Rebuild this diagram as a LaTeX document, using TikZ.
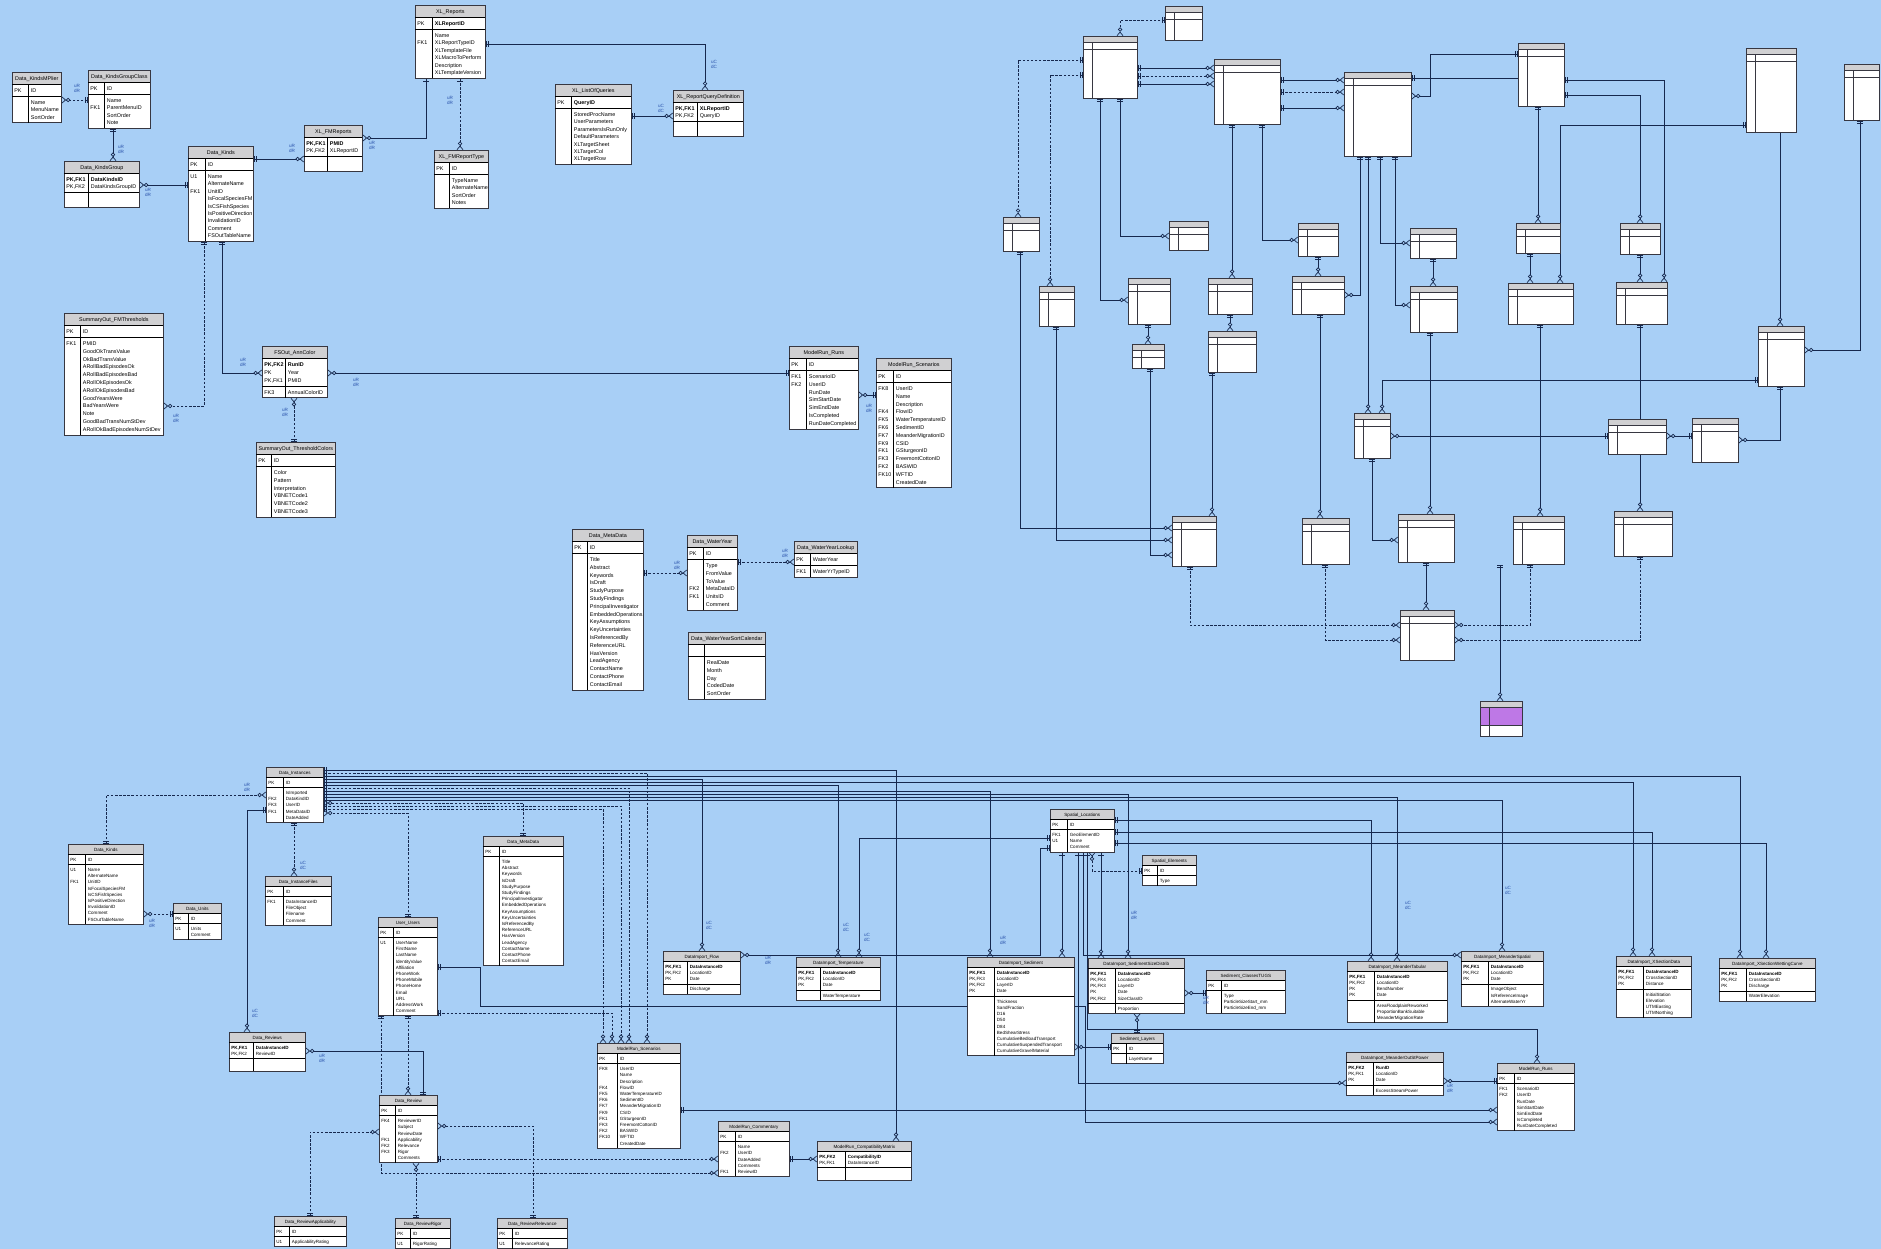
\documentclass[tikz,border=0pt]{standalone}
\usepackage{fontspec}
\setmainfont{Liberation Sans}
\usepackage{array}
\usetikzlibrary{arrows.meta}
\pgfdeclarelayer{bgl}\pgfdeclarelayer{back}
\pgfsetlayers{bgl,back,main}
\definecolor{bg}{RGB}{168,207,246}
\definecolor{lc}{RGB}{22,40,78}
\definecolor{hdr}{RGB}{208,208,210}
\definecolor{bd}{RGB}{55,55,65}
\definecolor{lb}{RGB}{40,80,170}
\definecolor{pur}{RGB}{190,120,230}
\setlength\arrayrulewidth{0.6pt}
\newcommand\entscale[2]{\pgfmathsetmacro\enfs{5.4*#1}\pgfmathsetmacro\enls{#2}%
 \pgfmathsetmacro\enth{8*#1}\pgfmathsetmacro\entd{3.5*#1}\pgfmathsetmacro\enhh{11.5*#1}\pgfmathsetmacro\enee{12*#1}}
\newcommand\Tp{\rule{0pt}{\enth pt}}
\newcommand\Bt{\rule[-\entd pt]{0pt}{\entd pt}}
\newcommand\Em{\rule{0pt}{\enee pt}&\\}
\tikzset{
 ent/.style={draw=bd, line width=0.7pt, fill=white, inner sep=0pt, anchor=north west,
   font=\fontsize{\enfs}{\enls}\selectfont,
   path picture={\fill[hdr] (path picture bounding box.north west) rectangle ([yshift=-\enhh pt]path picture bounding box.north east);}},
 mini/.style={draw=bd,line width=0.6pt,fill=white,anchor=north west,inner sep=0pt,
   path picture={\fill[hdr] (path picture bounding box.north west) rectangle ([yshift=-6pt]path picture bounding box.north east);
   \draw[bd,line width=0.4pt] ([yshift=-6pt]path picture bounding box.north west) -- ([yshift=-6pt]path picture bounding box.north east)
   ([yshift=-13pt]path picture bounding box.north west) -- ([yshift=-13pt]path picture bounding box.north east)
   ([xshift=9pt,yshift=-6pt]path picture bounding box.north west) -- ([xshift=9pt]path picture bounding box.south west);}},
 rel/.style={draw=lc, line width=0.8pt},
 opt/.style={rel, dash pattern=on 2.5pt off 1.6pt},
 one/.tip={Bar[width=6pt,line width=0.8pt,sep=1.6pt]Bar[width=6pt,line width=0.8pt]},
 zm/.tip={Circle[open,length=4.2pt,width=4.2pt,line width=0.7pt,fill=bg,sep=0pt]Straight Barb[reversed,length=3.5pt,width=6pt,line width=0.7pt]},
 om/.style={arrows={one}-{zm}},
 lab/.style={font=\fontsize{4.6}{4.9}\selectfont, text=lb, align=center, inner sep=0pt},
}
\newcommand\ent[6]{\node[ent] (#1) at (#2) {\begin{tabular}{@{\hspace{2pt}}>{\raggedright\arraybackslash}p{\dimexpr#4pt-2pt\relax}@{}|@{\hspace{2pt}}>{\raggedright\arraybackslash}p{\dimexpr#3pt-#4pt-2.6pt\relax}@{}}
\multicolumn{2}{@{}c@{}}{\rule{0pt}{\enth pt}\rule[-\entd pt]{0pt}{0pt}#5}\\\hline #6\end{tabular}};}
\newcommand\mbx[4]{\node[mini,minimum width=#3pt,minimum height=#4pt] (#1) at (#2) {};}
\newcommand\lab[3]{\node[lab] (#1) at (#2) {#3};}
\begin{document}
\begin{tikzpicture}[x=1pt,y=-1pt]
\useasboundingbox (0,0) rectangle (1881,1249);
\begin{pgfonlayer}{bgl}\fill[bg] (0,0) rectangle (1881,1249);\end{pgfonlayer}
% ---------------- top area
\entscale{1}{7.4}
\ent{kmp}{12,72}{49}{16}{Data\_KindsMPlier}{PK & ID\Tp\Bt\\\hline & Name\Tp\\ & MenuName\\ & SortOrder\Bt\\}
\ent{kgc}{88,70}{62}{16}{Data\_KindsGroupClass}{PK & ID\Tp\Bt\\\hline & Name\Tp\\ FK1 & ParentMenuID\\ & SortOrder\\ & Note\Bt\\}
\ent{kg}{64,161}{75}{24}{Data\_KindsGroup}{\textbf{PK,FK1} & \textbf{DataKindsID}\Tp\\ PK,FK2 & DataKindsGroupID\Bt\\\hline \Em}
\ent{dk}{188,146}{65}{17}{Data\_Kinds}{PK & ID\Tp\Bt\\\hline U1 & Name\Tp\\ & AlternateName\\ FK1 & UnitID\\ & IsFocalSpeciesFM\\ & IsCSFishSpecies\\ & IsPositiveDirection\\ & InvalidationID\\ & Comment\\ & FSOutTableName\Bt\\}
\ent{fmr}{304,125}{58}{23}{XL\_FMReports}{\textbf{PK,FK1} & \textbf{PMID}\Tp\\ PK,FK2 & XLReportID\Bt\\\hline \Em}
\ent{xlr}{415,5}{70}{17}{XL\_Reports}{PK & \textbf{XLReportID}\Tp\Bt\\\hline & Name\Tp\\ FK1 & XLReportTypeID\\ & XLTemplateFile\\ & XLMacroToPerform\\ & Description\\ & XLTemplateVersion\Bt\\}
\ent{fmrt}{434,150}{54}{15}{XL\_FMReportType}{PK & ID\Tp\Bt\\\hline & TypeName\Tp\\ & AlternateName\\ & SortOrder\\ & Notes\Bt\\}
\ent{loq}{555,84}{76}{16}{XL\_ListOfQueries}{PK & \textbf{QueryID}\Tp\Bt\\\hline & StoredProcName\Tp\\ & UserParameters\\ & ParametersIsRunOnly\\ & DefaultParameters\\ & XLTargetSheet\\ & XLTargetCol\\ & XLTargetRow\Bt\\}
\ent{rqd}{673,90}{70}{24}{XL\_ReportQueryDefinition}{\textbf{PK,FK1} & \textbf{XLReportID}\Tp\\ PK,FK2 & QueryID\Bt\\\hline \Em}
\entscale{1}{7.8}
\ent{smt}{64,313}{99}{16}{SummaryOut\_FMThresholds}{PK & ID\Tp\Bt\\\hline FK1 & PMID\Tp\\ & GoodOkTransValue\\ & OkBadTransValue\\ & ARollBadEpisodesOk\\ & ARollBadEpisodesBad\\ & ARollOkEpisodesOk\\ & ARollOkEpisodesBad\\ & GoodYearsWere\\ & BadYearsWere\\ & Note\\ & GoodBadTransNumStDev\\ & ARollOkBadEpisodesNumStDev\Bt\\}
\ent{ann}{262,346}{65}{23}{FSOut\_AnnColor}{\textbf{PK,FK2} & \textbf{RunID}\Tp\\ PK & Year\\ PK,FK1 & PMID\Bt\\\hline FK3 & AnnualColorID\Tp\Bt\\}
\ent{stc}{256,442}{79}{15}{SummaryOut\_ThresholdColors}{PK & ID\Tp\Bt\\\hline & Color\Tp\\ & Pattern\\ & Interpretation\\ & VBNETCode1\\ & VBNETCode2\\ & VBNETCode3\Bt\\}
\ent{runs1}{789,346}{69}{17}{ModelRun\_Runs}{PK & ID\Tp\Bt\\\hline FK1 & ScenarioID\Tp\\ FK2 & UserID\\ & RunDate\\ & SimStartDate\\ & SimEndDate\\ & IsCompleted\\ & RunDateCompleted\Bt\\}
\ent{scen1}{876,358}{75}{17}{ModelRun\_Scenarios}{PK & ID\Tp\Bt\\\hline FK8 & UserID\Tp\\ & Name\\ & Description\\ FK4 & FlowID\\ FK5 & WaterTemperatureID\\ FK6 & SedimentID\\ FK7 & MeanderMigrationID\\ FK9 & CSID\\ FK1 & GSturgeonID\\ FK3 & FreemontCottonID\\ FK2 & BASWID\\ FK10 & WFTID\\ & CreatedDate\Bt\\}
\ent{md1}{572,529}{71}{15}{Data\_MetaData}{PK & ID\Tp\Bt\\\hline & Title\Tp\\ & Abstract\\ & Keywords\\ & IsDraft\\ & StudyPurpose\\ & StudyFindings\\ & PrincipalInvestigator\\ & EmbeddedOperations\\ & KeyAssumptions\\ & KeyUncertainties\\ & IsReferencedBy\\ & ReferenceURL\\ & HasVersion\\ & LeadAgency\\ & ContactName\\ & ContactPhone\\ & ContactEmail\Bt\\}
\ent{wy}{687,535}{50}{16}{Data\_WaterYear}{PK & ID\Tp\Bt\\\hline & Type\Tp\\ & FromValue\\ & ToValue\\ FK2 & MetaDataID\\ FK1 & UnitsID\\ & Comment\Bt\\}
\ent{wyl}{794,541}{63}{16}{Data\_WaterYearLookup}{PK & WaterYear\Tp\Bt\\\hline FK1 & WaterYrTypeID\Tp\Bt\\}
\ent{wysc}{688,632}{77}{16}{Data\_WaterYearSortCalendar}{ & \Tp\Bt\\\hline & RealDate\Tp\\ & Month\\ & Day\\ & CodedDate\\ & SortOrder\Bt\\}
% ---------------- bottom area
\entscale{0.84}{6.2}
\ent{di}{266,767}{57}{17}{Data\_Instances}{PK & ID\Tp\Bt\\\hline & IsImported\Tp\\ FK2 & DataKindID\\ FK3 & UserID\\ FK1 & MetaDataID\\ & DateAdded\Bt\\}
\ent{dk2}{68,844}{75}{17}{Data\_Kinds}{PK & ID\Tp\Bt\\\hline U1 & Name\Tp\\ & AlternateName\\ FK1 & UnitID\\ & IsFocalSpeciesFM\\ & IsCSFishSpecies\\ & IsPositiveDirection\\ & InvalidationID\\ & Comment\\ & FSOutTableName\Bt\\}
\ent{du}{173,903}{48}{15}{Data\_Units}{PK & ID\Tp\Bt\\\hline U1 & Units\Tp\\ & Comment\Bt\\}
\ent{dif}{265,876}{66}{18}{Data\_InstanceFiles}{PK & ID\Tp\Bt\\\hline FK1 & DataInstanceID\Tp\\ & FileObject\\ & Filename\\ & Comment\Bt\\}
\ent{uu}{378,917}{59}{15}{User\_Users}{PK & ID\Tp\Bt\\\hline U1 & UserName\Tp\\ & FirstName\\ & LastName\\ & IdentityValue\\ & Affiliation\\ & PhoneWork\\ & PhoneMobile\\ & PhoneHome\\ & Email\\ & URL\\ & AddressWork\\ & Comment\Bt\\}
\ent{md2}{483,836}{80}{16}{Data\_MetaData}{PK & ID\Tp\Bt\\\hline & Title\Tp\\ & Abstract\\ & Keywords\\ & IsDraft\\ & StudyPurpose\\ & StudyFindings\\ & PrincipalInvestigator\\ & EmbeddedOperations\\ & KeyAssumptions\\ & KeyUncertainties\\ & IsReferencedBy\\ & ReferenceURL\\ & HasVersion\\ & LeadAgency\\ & ContactName\\ & ContactPhone\\ & ContactEmail\Bt\\}
\ent{drs}{229,1032}{76}{24}{Data\_Reviews}{\textbf{PK,FK1} & \textbf{DataInstanceID}\Tp\\ PK,FK2 & ReviewID\Bt\\\hline \Em}
\ent{dr}{379,1095}{58}{16}{Data\_Review}{PK & ID\Tp\Bt\\\hline FK4 & ReviewerID\Tp\\ & Subject\\ & ReviewDate\\ FK1 & Applicability\\ FK2 & Relevance\\ FK3 & Rigor\\ & Comments\Bt\\}
\ent{dra}{274,1216}{72}{15}{Data\_ReviewApplicability}{PK & ID\Tp\Bt\\\hline U1 & ApplicabilityRating\Tp\Bt\\}
\ent{drr}{395,1218}{55}{15}{Data\_ReviewRigor}{PK & ID\Tp\Bt\\\hline U1 & RigorRating\Tp\Bt\\}
\ent{drel}{497,1218}{70}{15}{Data\_ReviewRelevance}{PK & ID\Tp\Bt\\\hline U1 & RelevanceRating\Tp\Bt\\}
\ent{scen2}{597,1043}{83}{20}{ModelRun\_Scenarios}{PK & ID\Tp\Bt\\\hline FK8 & UserID\Tp\\ & Name\\ & Description\\ FK4 & FlowID\\ FK5 & WaterTemperatureID\\ FK6 & SedimentID\\ FK7 & MeanderMigrationID\\ FK9 & CSID\\ FK1 & GSturgeonID\\ FK3 & FreemontCottonID\\ FK2 & BASWID\\ FK10 & WFTID\\ & CreatedDate\Bt\\}
\ent{com}{718,1121}{71}{17}{ModelRun\_Commentary}{PK & ID\Tp\Bt\\\hline & Name\Tp\\ FK2 & UserID\\ & DateAdded\\ & Comments\\ FK1 & ReviewID\Bt\\}
\ent{cm}{817,1141}{94}{28}{ModelRun\_CompatibilityMatrix}{\textbf{PK,FK2} & \textbf{CompatibilityID}\Tp\\ PK,FK1 & DataInstanceID\Bt\\\hline \Em}
\ent{flow}{663,951}{77}{24}{DataImport\_Flow}{\textbf{PK,FK1} & \textbf{DataInstanceID}\Tp\\ PK,FK2 & LocationID\\ PK & Date\Bt\\\hline & Discharge\Tp\Bt\\}
\ent{temp}{796,957}{84}{24}{DataImport\_Temperature}{\textbf{PK,FK1} & \textbf{DataInstanceID}\Tp\\ PK,FK2 & LocationID\\ PK & Date\Bt\\\hline & WaterTemperature\Tp\Bt\\}
\ent{sed}{967,957}{107}{27}{DataImport\_Sediment}{\textbf{PK,FK1} & \textbf{DataInstanceID}\Tp\\ PK,FK3 & LocationID\\ PK,FK2 & LayerID\\ PK & Date\Bt\\\hline & Thickness\Tp\\ & SandFraction\\ & D16\\ & D50\\ & D84\\ & BedShearStress\\ & CumulativeBedloadTransport\\ & CumulativeSuspendedTransport\\ & CumulativeGravelMaterial\Bt\\}
\ent{sl}{1050,809}{64}{17}{Spatial\_Locations}{PK & ID\Tp\Bt\\\hline FK1 & GeoElementID\Tp\\ U1 & Name\\ & Comment\Bt\\}
\ent{se}{1142,855}{54}{15}{Spatial\_Elements}{PK & ID\Tp\Bt\\\hline & Type\Tp\Bt\\}
\ent{ssd}{1088,958}{96}{27}{DataImport\_SedimentSizeDistrib}{\textbf{PK,FK1} & \textbf{DataInstanceID}\Tp\\ PK,FK4 & LocationID\\ PK,FK3 & LayerID\\ PK & Date\\ PK,FK2 & SizeClassID\Bt\\\hline & Proportion\Tp\Bt\\}
\ent{sct}{1206,970}{79}{15}{Sediment\_ClassesTUGS}{PK & ID\Tp\Bt\\\hline & Type\Tp\\ & ParticleSizeStart\_mm\\ & ParticleSizeEnd\_mm\Bt\\}
\ent{sly}{1111,1033}{52}{15}{Sediment\_Layers}{PK & ID\Tp\Bt\\\hline & LayerName\Tp\Bt\\}
\ent{mt}{1347,961}{100}{27}{DataImport\_MeanderTabular}{\textbf{PK,FK1} & \textbf{DataInstanceID}\Tp\\ PK,FK2 & LocationID\\ PK & BendNumber\\ PK & Date\Bt\\\hline & AreaFloodplainReworked\Tp\\ & ProportionBankSuitable\\ & MeanderMigrationRate\Bt\\}
\ent{ms}{1461,951}{82}{27}{DataImport\_MeanderSpatial}{\textbf{PK,FK1} & \textbf{DataInstanceID}\Tp\\ PK,FK2 & LocationID\\ PK & Date\Bt\\\hline & ImageObject\Tp\\ & IsReferenceImage\\ & AlternateWaterYr\Bt\\}
\ent{mop}{1346,1052}{97}{27}{DataImport\_MeanderOutStPower}{\textbf{PK,FK2} & \textbf{RunID}\Tp\\ PK,FK1 & LocationID\\ PK & Date\Bt\\\hline & ExcessStreamPower\Tp\Bt\\}
\ent{runs2}{1497,1063}{77}{17}{ModelRun\_Runs}{PK & ID\Tp\Bt\\\hline FK1 & ScenarioID\Tp\\ FK2 & UserID\\ & RunDate\\ & SimStartDate\\ & SimEndDate\\ & IsCompleted\\ & RunDateCompleted\Bt\\}
\ent{xsd}{1616,956}{75}{27}{DataImport\_XSectionData}{\textbf{PK,FK1} & \textbf{DataInstanceID}\Tp\\ PK,FK2 & CrossSectionID\\ PK & Distance\Bt\\\hline & InitialStation\Tp\\ & Elevation\\ & UTMEasting\\ & UTMNorthing\Bt\\}
\ent{xsw}{1719,958}{96}{27}{DataImport\_XSectionWettingCurve}{\textbf{PK,FK1} & \textbf{DataInstanceID}\Tp\\ PK,FK2 & CrossSectionID\\ PK & Discharge\Bt\\\hline & WaterElevation\Tp\Bt\\}
% ---------------- right cluster
\mbx{r1}{1165,6}{37}{34}\mbx{r2}{1083,36}{54}{62}\mbx{r3}{1214,59}{66}{65}\mbx{r4}{1344,72}{67}{84}
\mbx{r5}{1518,43}{46}{63}\mbx{r6}{1746,48}{50}{84}\mbx{r7}{1844,64}{35}{56}
\mbx{r8}{1003,217}{36}{34}\mbx{r9}{1039,286}{35}{40}\mbx{r10}{1128,278}{42}{46}\mbx{r11}{1132,344}{32}{24}
\mbx{r12}{1169,221}{39}{29}\mbx{r13}{1208,278}{44}{36}\mbx{r14}{1208,331}{48}{41}
\mbx{r15}{1298,223}{40}{33}\mbx{r16}{1292,276}{52}{38}\mbx{r17}{1410,228}{46}{30}\mbx{r18}{1410,286}{47}{46}
\mbx{r19}{1516,223}{44}{30}\mbx{r20}{1508,283}{65}{41}\mbx{r21}{1620,223}{40}{31}\mbx{r22}{1616,282}{51}{42}
\mbx{r23}{1758,326}{46}{60}\mbx{r24}{1354,413}{36}{45}\mbx{r25}{1608,419}{58}{35}\mbx{r26}{1692,418}{46}{44}
\mbx{r27}{1172,516}{44}{50}\mbx{r28}{1302,518}{47}{46}\mbx{r29}{1398,514}{56}{48}\mbx{r30}{1513,516}{51}{48}
\mbx{r31}{1614,511}{58}{45}\mbx{r32}{1400,610}{54}{50}
\node[mini,minimum width=42pt,minimum height=35pt,path picture={\fill[pur] ([yshift=-6pt]path picture bounding box.north west) rectangle ([yshift=-24pt]path picture bounding box.north east);\fill[hdr] (path picture bounding box.north west) rectangle ([yshift=-6pt]path picture bounding box.north east);\draw[bd,line width=0.4pt] ([yshift=-6pt]path picture bounding box.north west) -- ([yshift=-6pt]path picture bounding box.north east) ([yshift=-24pt]path picture bounding box.north west) -- ([yshift=-24pt]path picture bounding box.north east) ([xshift=9pt,yshift=-6pt]path picture bounding box.north west) -- ([xshift=9pt]path picture bounding box.south west);}] (r33) at (1480,701) {};
% ---------------- connectors
\begin{pgfonlayer}{back}
\draw[opt,om] (kgc.west |- 0,100) -- (kmp.east |- 0,100);
\draw[rel,om] (kgc.south -| 113,0) -- (kg.north -| 113,0);
\draw[rel,om] (dk.west |- 0,185) -- (kg.east |- 0,185);
\draw[rel,om] (dk.east |- 0,159) -- (fmr.west |- 0,159);
\draw[rel,om] (xlr.south -| 426,0) |- (fmr.east |- 0,138);
\draw[opt,om] (xlr.south -| 460,0) -- (fmrt.north -| 460,0);
\draw[rel,om] (xlr.east |- 0,44) -| (rqd.north -| 705,0);
\draw[rel,om] (loq.east |- 0,116) -- (rqd.west |- 0,116);
\draw[opt,om] (dk.south -| 204,0) |- (smt.east |- 0,406);
\draw[rel,om] (dk.south -| 222,0) |- (ann.west |- 0,373);
\draw[rel,om] (runs1.west |- 0,373) -- (ann.east |- 0,373);
\draw[opt,om] (stc.north -| 294,0) -- (ann.south -| 294,0);
\draw[rel,om] (scen1.west |- 0,395) -- (runs1.east |- 0,395);
\draw[opt,om] (md1.east |- 0,573) -- (wy.west |- 0,573);
\draw[opt,om] (wy.east |- 0,562) -- (wyl.west |- 0,562);
% bottom
\draw[opt,om] (dk2.north -| 106,0) |- (di.west |- 0,795);
\draw[opt,om] (du.west |- 0,914) -- (dk2.east |- 0,914);
\draw[opt,om] (di.south -| 294,0) -- (dif.north -| 294,0);
\draw[rel,om] (di.west |- 0,810) -| (drs.north -| 247,0);
\draw[rel,om] (di.east |- 0,770) -| (cm.north -| 896,0);
\draw[opt,om] (di.east |- 0,773) -| (scen2.north -| 647,0);
\draw[rel,om] (di.east |- 0,776) -| (xsw.north -| 1740,0);
\draw[rel,om] (di.east |- 0,779) -| (flow.north -| 702,0);
\draw[rel,om] (di.east |- 0,782) -| (xsd.north -| 1633,0);
\draw[rel,om] (di.east |- 0,785) -| (temp.north -| 838,0);
\draw[opt,om] (di.east |- 0,788) -| (scen2.north -| 629,0);
\draw[rel,om] (di.east |- 0,791) -| (sed.north -| 990,0);
\draw[rel,om] (di.east |- 0,794) -| (ssd.north -| 1128,0);
\draw[rel,om] (di.east |- 0,797) -| (mt.north -| 1397,0);
\draw[rel,om] (di.east |- 0,800) -| (ms.north -| 1502,0);
\draw[opt,om] (md2.north -| 523,0) |- (di.east |- 0,803);
\draw[opt,om] (di.east |- 0,806) -| (scen2.north -| 621,0);
\draw[opt,om] (di.east |- 0,809) -| (scen2.north -| 603,0);
\draw[opt,om] (uu.north -| 408,0) |- (di.east |- 0,813);
\draw[opt,om] (uu.east |- 0,1013) -| (scen2.north -| 612,0);
\draw[rel,om] (uu.east |- 0,967) -| (480,1006) -- (1085,1006) |- (runs2.west |- 0,1122);
\draw[opt,om] (uu.south -| 408,0) -- (dr.north -| 408,0);
\draw[opt,om] (uu.south -| 381,0) |- (com.west |- 0,1173);
\draw[rel,om] (dr.north -| 423,0) |- (drs.east |- 0,1051);
\draw[opt,om] (drel.north -| 533,0) |- (dr.east |- 0,1126);
\draw[opt,om] (drr.north -| 416,0) -- (dr.south -| 416,0);
\draw[opt,om] (dra.north -| 310,0) |- (dr.west |- 0,1132);
\draw[opt,om] (dr.east |- 0,1159) -- (com.west |- 0,1159);
\draw[rel,om] (com.east |- 0,1159) -- (cm.west |- 0,1159);
\draw[rel,om] (scen2.east |- 0,1110) -- (runs2.west |- 0,1110);
\draw[rel,om] (sl.east |- 0,820) -| (mt.north -| 1371,0);
\draw[rel,om] (sl.east |- 0,832) -| (xsd.north -| 1652,0);
\draw[rel,om] (sl.east |- 0,843) -| (xsw.north -| 1766,0);
\draw[rel,om] (sl.south -| 1062,0) -- (sed.north -| 1062,0);
\draw[rel,om] (sl.south -| 1101,0) -- (ssd.north -| 1101,0);
\draw[rel,om] (sl.south -| 1083,0) |- (ms.west |- 0,955);
\draw[opt,om] (se.west |- 0,871) -| (sl.south -| 1092,0);
\draw[rel,om] (sl.south -| 1078,0) |- (mop.west |- 0,1083);
\draw[rel,om] (sl.south -| 1087,0) |- (1537,1029) -- (runs2.north -| 1537,0);
\draw[rel,om] (sly.west |- 0,1047) -- (sed.east |- 0,1047);
\draw[rel,om] (sly.north -| 1137,0) -- (ssd.south -| 1137,0);
\draw[rel,om] (sct.west |- 0,993) -- (ssd.east |- 0,993);
\draw[rel,om] (runs2.west |- 0,1081) -- (mop.east |- 0,1081);
\draw[rel,om] (sl.west |- 0,838) -| (temp.north -| 859,0);
\draw[rel,om] (sl.west |- 0,848) -| (1040,955) -- (flow.east |- 0,955);
% right cluster
\draw[opt,om] (r1.west |- 0,20) -| (r2.north -| 1120,0);
\draw[rel,om] (r2.east |- 0,68) -- (r3.west |- 0,68);
\draw[opt,om] (r2.east |- 0,76) -- (r3.west |- 0,76);
\draw[rel,om] (r2.east |- 0,84) -- (r3.west |- 0,84);
\draw[rel,om] (r3.east |- 0,80) -- (r4.west |- 0,80);
\draw[opt,om] (r3.east |- 0,92) -- (r4.west |- 0,92);
\draw[rel,om] (r3.east |- 0,108) -- (r4.west |- 0,108);
\draw[rel,om] (r4.east |- 0,78) -| (r5.south -| 1526,0);
\draw[rel,om] (r5.west |- 0,54) -- (1430,54) |- (r4.east |- 0,96);
\draw[opt,om] (r2.west |- 0,60) -| (r8.north -| 1018,0);
\draw[opt,om] (r2.west |- 0,75) -| (r9.north -| 1050,0);
\draw[rel,om] (r2.south -| 1100,0) |- (r10.west |- 0,300);
\draw[rel,om] (r2.south -| 1120,0) |- (r12.west |- 0,236);
\draw[rel,om] (r3.south -| 1232,0) -- (r13.north -| 1232,0);
\draw[rel,om] (r3.south -| 1262,0) |- (r15.west |- 0,240);
\draw[rel,om] (r4.south -| 1360,0) |- (r16.east |- 0,295);
\draw[rel,om] (r4.south -| 1380,0) |- (r17.west |- 0,243);
\draw[rel,om] (r4.south -| 1395,0) |- (r18.west |- 0,305);
\draw[rel,om] (r5.south -| 1538,0) -- (r19.north -| 1538,0);
\draw[rel,om] (r5.east |- 0,95) -| (r21.north -| 1640,0);
\draw[rel,om] (r5.east |- 0,80) -| (r22.north -| 1664,0);
\draw[rel,om] (r6.west |- 0,110) -| (r23.north -| 1780,0);
\draw[rel,om] (r7.south -| 1860,0) |- (r23.east |- 0,350);
\draw[rel,om] (r6.west |- 0,125) -| (r20.north -| 1560,0);
\draw[rel,om] (r10.south -| 1148,0) -- (r11.north -| 1148,0);
\draw[rel,om] (r13.south -| 1230,0) -- (r14.north -| 1230,0);
\draw[rel,om] (r15.south -| 1318,0) -- (r16.north -| 1318,0);
\draw[rel,om] (r17.south -| 1433,0) -- (r18.north -| 1433,0);
\draw[rel,om] (r19.south -| 1530,0) -- (r20.north -| 1530,0);
\draw[rel,om] (r21.south -| 1640,0) -- (r22.north -| 1640,0);
\draw[rel,om] (r14.south -| 1212,0) -- (r27.north -| 1212,0);
\draw[rel,om] (r16.south -| 1320,0) -- (r28.north -| 1320,0);
\draw[rel,om] (r18.south -| 1430,0) -- (r29.north -| 1430,0);
\draw[rel,om] (r20.south -| 1540,0) -- (r30.north -| 1540,0);
\draw[rel,om] (r22.south -| 1640,0) -- (r31.north -| 1640,0);
\draw[rel,om] (r4.south -| 1368,0) -- (r24.north -| 1368,0);
\draw[rel,om] (r23.west |- 0,380) -| (r24.north -| 1382,0);
\draw[rel,om] (r23.south -| 1780,0) |- (r26.east |- 0,440);
\draw[rel,om] (r26.west |- 0,436) -- (r25.east |- 0,436);
\draw[rel,om] (r25.west |- 0,436) -- (r24.east |- 0,436);
\draw[rel,om] (r24.south -| 1372,0) |- (r29.west |- 0,540);
\draw[rel,om] (r9.south -| 1056,0) |- (r27.west |- 0,540);
\draw[rel,om] (r11.south -| 1150,0) |- (r27.west |- 0,555);
\draw[opt,om] (r27.south -| 1190,0) |- (r32.west |- 0,625);
\draw[opt,om] (r28.south -| 1325,0) |- (r32.west |- 0,640);
\draw[opt,om] (r30.south -| 1530,0) |- (r32.east |- 0,625);
\draw[opt,om] (r31.south -| 1640,0) |- (r32.east |- 0,640);
\draw[rel,om] (r30.south -| 1500,0) -- (r33.north -| 1500,0);
\draw[rel,om] (r29.south -| 1426,0) -- (r32.north -| 1426,0);
\draw[rel,om] (r8.south -| 1020,0) |- (r27.west |- 0,528);
\end{pgfonlayer}
% labels
\lab{l1}{77,88}{uR\\dR}\lab{l2}{121,149}{uR\\dR}\lab{l3}{148,192}{uR\\dR}\lab{l4}{292,148}{uR\\dR}
\lab{l5}{372,145}{uR\\dR}\lab{l6}{450,100}{uR\\dR}\lab{l7}{714,64}{uC\\dC}\lab{l8}{661,108}{uC\\dC}
\lab{l9}{176,418}{uR\\dR}\lab{l10}{243,362}{uR\\dR}\lab{l11}{356,382}{uR\\dR}\lab{l12}{285,412}{uR\\dR}
\lab{l13}{869,408}{uR\\dR}\lab{l14}{677,565}{uR\\dR}\lab{l15}{785,553}{uR\\dR}
\lab{l16}{247,787}{uR\\dR}\lab{l17}{152,923}{uR\\dR}\lab{l18}{303,865}{uC\\dC}\lab{l19}{255,1013}{uC\\dC}
\lab{l20}{322,1058}{uR\\dR}\lab{l21}{709,925}{uC\\dC}\lab{l22}{846,927}{uC\\dC}\lab{l23}{867,937}{uC\\dC}
\lab{l24}{768,960}{uR\\dR}\lab{l25}{1003,940}{uR\\dR}\lab{l26}{1134,915}{uR\\dR}\lab{l27}{1206,1000}{uR\\dR}
\lab{l28}{1408,905}{uC\\dC}\lab{l29}{1508,890}{uC\\dC}\lab{l30}{1450,1088}{uR\\dR}
\end{tikzpicture}
\end{document}
